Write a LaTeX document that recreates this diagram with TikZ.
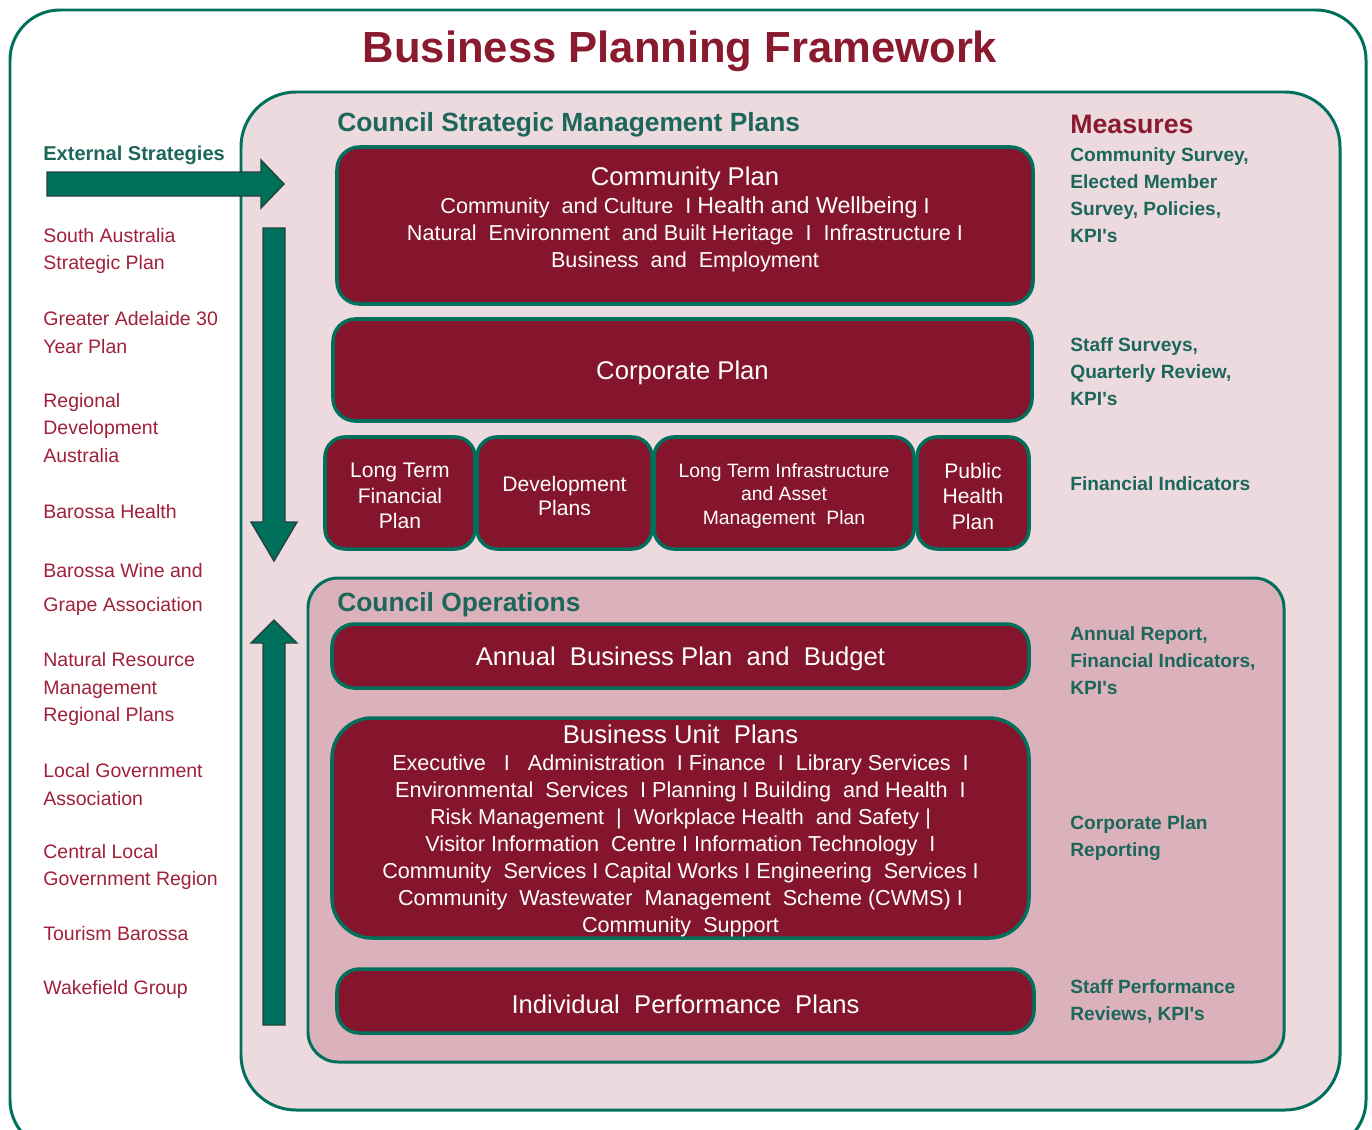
\documentclass[tikz,border=0pt]{standalone}
\usepackage{fontspec}
\setmainfont{Liberation Sans}
\usepackage{tikz}
\usetikzlibrary{fit}
\definecolor{maroonx}{HTML}{85152C}
\definecolor{tealx}{HTML}{00705C}
\definecolor{tealdk}{HTML}{1C665A}
\definecolor{redx}{HTML}{A0203A}
\definecolor{titlered}{HTML}{8A1A2E}
\definecolor{palebg}{HTML}{ECDADF}
\definecolor{opsbg}{HTML}{DBB2BC}
\definecolor{arrowline}{HTML}{22443B}
\newcommand{\fsz}[2]{\fontsize{#1}{#2}\selectfont}
\newcommand{\kpis}{KPI\textquotesingle s}
\tikzset{
  frame/.style={draw=tealx,line width=1.7pt,rounded corners=1cm},
  planbox/.style={draw=tealx,line width=2pt,fill=maroonx,inner sep=0pt,rounded corners=0.45cm},
  boxtext/.style={text=white,align=center,inner sep=0pt,yshift=-0.06cm,font=\fsz{12.3}{15.4}},
  measure/.style={anchor=west,align=left,text=tealdk,font=\bfseries\fsz{10.9}{15.4},inner sep=0pt},
  extlabel/.style={anchor=west,align=left,text=redx,font=\fsz{11.1}{15.4},inner sep=0pt},
  heading/.style={anchor=west,text=tealdk,font=\bfseries\fsz{15}{18},inner sep=0pt},
  blockarrow/.style={draw=arrowline,fill=tealx,line width=0.8pt}
}

\begin{document}
\begin{tikzpicture}[x=0.02cm,y=-0.02cm]
\useasboundingbox (0,0) rectangle (1372,1129);
\draw[frame] (10,10) rectangle (1366,1150);
\draw[frame,fill=palebg,rounded corners=1.1cm] (241,92) rectangle (1340,1110);
\draw[frame,fill=opsbg,rounded corners=0.6cm] (308,578) rectangle (1284,1062);
\node[font=\bfseries\fsz{24.8}{28},text=titlered] (title) at (680,51) {Business Planning Framework};

\node[heading] (csmp) at (337,125) {Council Strategic Management Plans};
\node[heading] (ops) at (337,605) {Council Operations};
\node[heading,text=titlered,font=\bfseries\fsz{15.2}{18}] (measures) at (1070,124) {Measures};
\node[heading,font=\bfseries\fsz{11.4}{14}] (external) at (43,155) {External Strategies};

% plan boxes
\node[planbox,fit={(337,147) (1033,304)}] (community) {};
\node[planbox,fit={(333,319) (1032,421)}] (corporate) {};
\node[planbox,rounded corners=0.4cm,fit={(325,437) (475,549)}] (ltfp) {};
\node[planbox,rounded corners=0.4cm,fit={(477,437) (652,549)}] (devplans) {};
\node[planbox,rounded corners=0.4cm,fit={(654,437) (914,549)}] (ltiamp) {};
\node[planbox,rounded corners=0.4cm,fit={(917,437) (1029,549)}] (phplan) {};
\node[planbox,fit={(332,624) (1029,688)}] (abpb) {};
\node[planbox,rounded corners=0.8cm,fit={(332,718) (1029,938)}] (bup) {};
\node[planbox,fit={(337,969) (1034,1033)}] (ipp) {};

% box texts
\node[boxtext,yshift=0.18cm] (communitytxt) at (community.center) {{\fsz{14.6}{17}Community Plan}\\Community\ \ and Culture \ I {\fsz{13.2}{15.4}Health and Wellbeing} I\\Natural\ \ Environment\ \ and Built Heritage \ I \ Infrastructure I\\Business\ \ and\ \ Employment};
\node[boxtext,font=\fsz{14.6}{17}] (corporatetxt) at (corporate.center) {Corporate Plan};
\node[boxtext,font=\fsz{12}{14.5}] (ltfptxt) at (ltfp.center) {Long Term\\Financial\\Plan};
\node[boxtext,font=\fsz{12}{14}] (devplanstxt) at (devplans.center) {Development\\Plans};
\node[boxtext,font=\fsz{11}{13.4}] (ltiamptxt) at (ltiamp.center) {Long Term Infrastructure\\and Asset\\Management\ \ Plan};
\node[boxtext,font=\fsz{12}{14.5}] (phplantxt) at (phplan.center) {Public\\Health\\Plan};
\node[boxtext,font=\fsz{14.6}{17}] (abpbtxt) at (abpb.center) {Annual\ \ Business Plan\ \ and\ \ Budget};
\node[boxtext] (buptxt) at (bup.center) {{\fsz{14.6}{16}Business Unit\ \ Plans}\\Executive\ \ \ I\ \ \ Administration\ \ I Finance\ \ I\ \ Library Services\ \ I\\Environmental\ \ Services\ \ I Planning I Building\ \ and Health\ \ I\\Risk Management\ \ |\ \ Workplace Health\ \ and Safety |\\Visitor Information\ \ Centre I Information Technology\ \ I\\Community\ \ Services I Capital Works I Engineering\ \ Services I\\Community\ \ Wastewater\ \ Management\ \ Scheme (CWMS) I\\Community\ \ Support};
\node[boxtext,font=\fsz{14.6}{17}] (ipptxt) at (ipp.center) {Individual\ \ Performance\ \ Plans};

% measures column
\node[measure] (m1) at (1070,195.5) {Community Survey,\\Elected Member\\Survey, Policies,\\\kpis};
\node[measure] (m2) at (1070,372) {Staff Surveys,\\Quarterly Review,\\\kpis};
\node[measure] (m3) at (1070,484) {Financial Indicators};
\node[measure] (m4) at (1070,661) {Annual Report,\\Financial Indicators,\\\kpis};
\node[measure] (m5) at (1070,838.5) {Corporate Plan\\Reporting};
\node[measure] (m6) at (1070,1001.5) {Staff Performance\\Reviews, \kpis};

% external strategies list
\foreach \yy/\txt [count=\i] in {250.5/{South Australia\\Strategic Plan},332.5/{Greater Adelaide 30\\Year Plan},428/{Regional\\Development\\Australia},512/{Barossa Health},689/{Natural Resource\\Management\\Regional Plans},784.5/{Local Government\\Association},866.5/{Central Local\\Government Region},934/{Tourism Barossa},989/{Wakefield Group}}
  \node[extlabel] (ext\i) at (43,\yy) {\txt};
\node[extlabel,font=\fsz{11.1}{19.3}] (wine) at (43,589) {Barossa Wine and\\Grape Association};

% block arrows
\draw[blockarrow] (47,172) -- (261,172) -- (261,160) -- (284,184) -- (261,208) -- (261,196) -- (47,196) -- cycle;
\draw[blockarrow] (263,228) -- (285,228) -- (285,522) -- (297,522) -- (274,561) -- (251,522) -- (263,522) -- cycle;
\draw[blockarrow] (263,1025) -- (285,1025) -- (285,643) -- (297,643) -- (274,620) -- (251,643) -- (263,643) -- cycle;
\end{tikzpicture}
\end{document}
